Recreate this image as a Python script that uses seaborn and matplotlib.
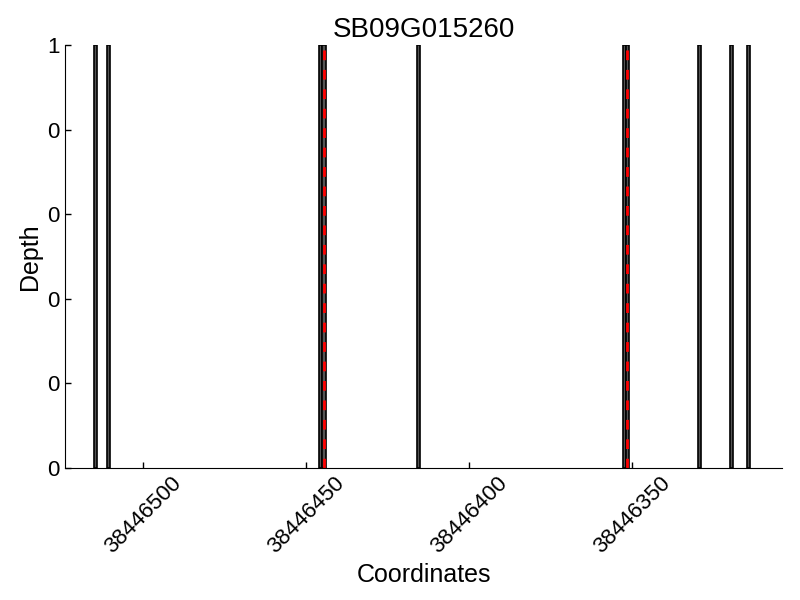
import matplotlib
matplotlib.use("Agg")
import matplotlib.pyplot as plt
import matplotlib.ticker as mticker
import seaborn as sns

gene = "SB09G015260"
positions = [38446514, 38446510, 38446445, 38446444, 38446415,
             38446352, 38446351, 38446329, 38446319, 38446314]
depth = [1, 1, 1, 1, 1, 1, 1, 1, 1, 1]
marks = [38446444.5, 38446351.5]
xticks = [38446500, 38446450, 38446400, 38446350]

sns.set_style("ticks")
plt.rcParams["font.family"] = ["Liberation Sans", "DejaVu Sans"]
plt.rcParams["xtick.direction"] = "in"
plt.rcParams["ytick.direction"] = "in"
for k in ["text.color", "axes.labelcolor", "xtick.color", "ytick.color", "axes.edgecolor"]:
    plt.rcParams[k] = "black"

fig, ax = plt.subplots(figsize=(8, 6), dpi=100)
ax.bar(positions, depth, width=1, align="edge", color="#555555",
       edgecolor="black", linewidth=1.2)
for m in marks:
    ax.axvline(m, color="red", linestyle=(0, (3.5, 3.5)), linewidth=2)

ax.set_xlim(max(positions) + 10, min(positions) - 10)
ax.set_ylim(0, 1)
ax.set_xticks(xticks)
ax.set_xticklabels([str(t) for t in xticks], rotation=45, fontsize=16)
ax.set_yticks([0, 0.2, 0.4, 0.6, 0.8, 1.0])
ax.yaxis.set_major_formatter(mticker.FormatStrFormatter("%d"))
ax.tick_params(axis="y", labelsize=16)
ax.tick_params(axis="both", width=1, length=4)
ax.set_title(gene, fontsize=20)
ax.set_xlabel("Coordinates", fontsize=18)
ax.set_ylabel("Depth", fontsize=18)
sns.despine(ax=ax)

fig.subplots_adjust(left=0.081, right=0.978, top=0.925, bottom=0.22)
plt.savefig("out.png")
